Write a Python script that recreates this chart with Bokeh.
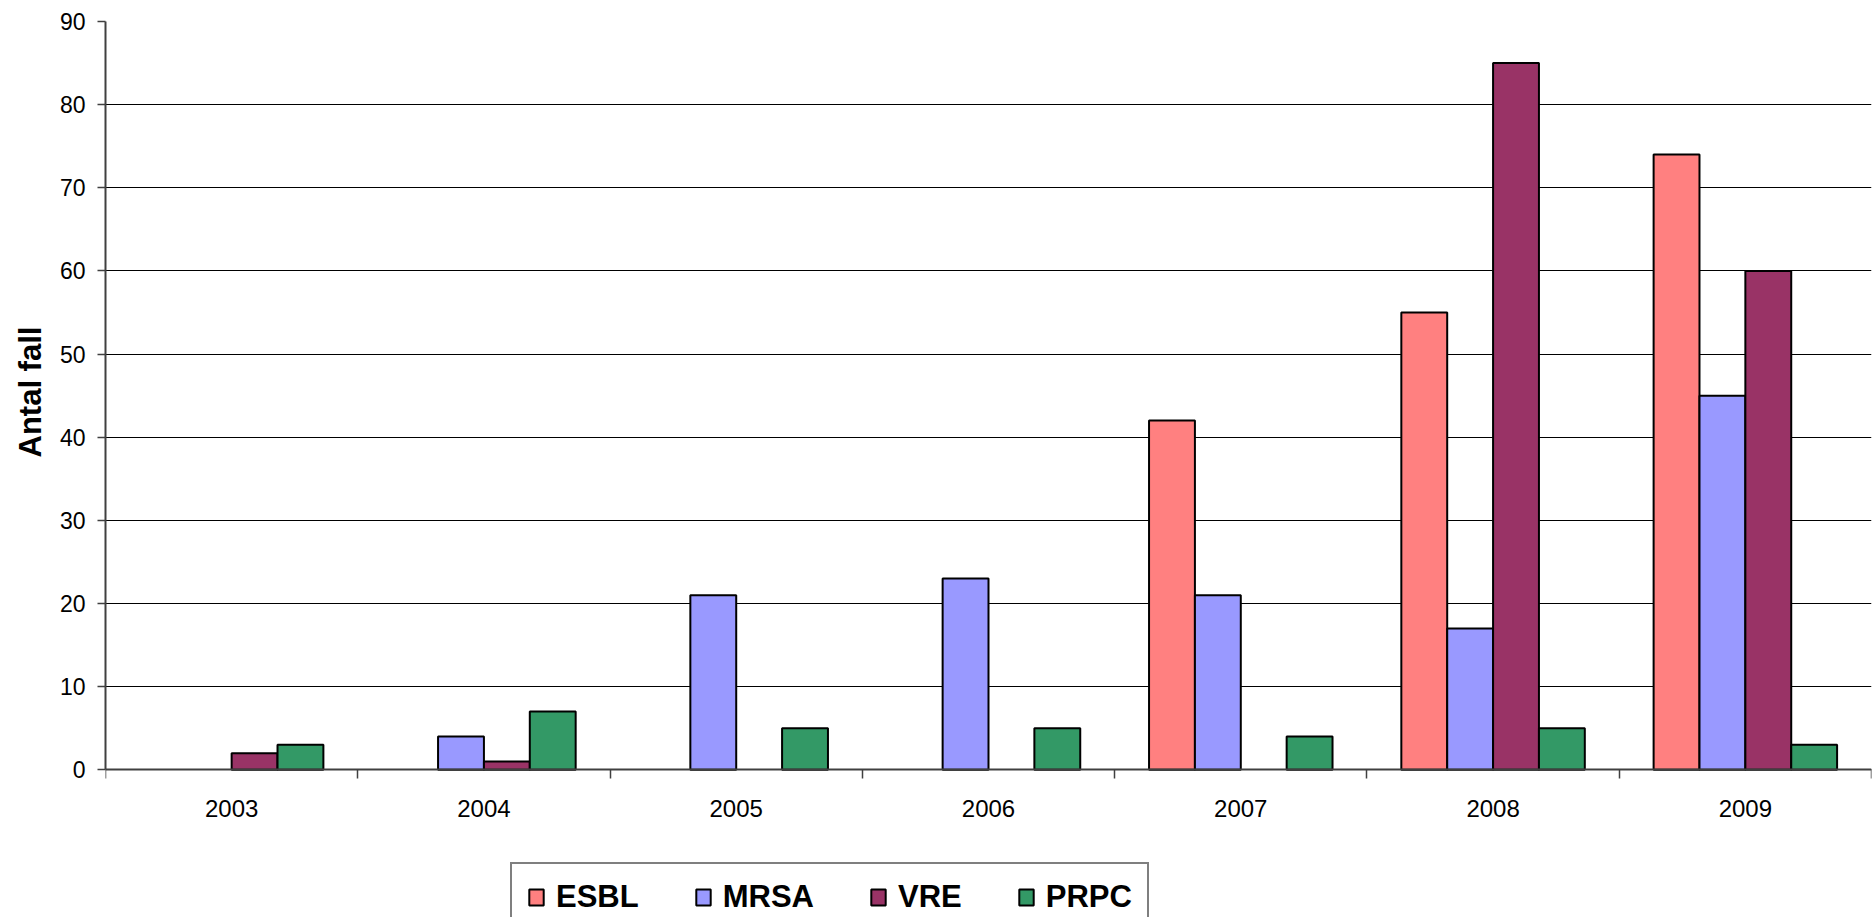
import numpy as np
from bokeh.plotting import figure
from bokeh.models import (Range1d, FixedTicker, Legend, LegendItem, ColumnDataSource,
                          CDSView, BooleanFilter, Grid, Title)
from bokeh.embed import file_html
from bokeh.resources import INLINE

# ---- data ----
years = ["2003", "2004", "2005", "2006", "2007", "2008", "2009"]
series_names = ["ESBL", "MRSA", "VRE", "PRPC"]
esbl = [0, 0, 0, 0, 42, 55, 74]
mrsa = [0, 4, 21, 23, 21, 17, 45]
vre = [2, 1, 0, 0, 0, 85, 60]
prpc = [3, 7, 5, 5, 4, 5, 3]
colors = ["#FF8080", "#9999FF", "#993366", "#339966"]
y_ticks = [0, 10, 20, 30, 40, 50, 60, 70, 80, 90]
y_label = "Antal fall"

series_values = [esbl, mrsa, vre, prpc]

# plot region: y=90 at 21px, y=0 at 769px, frame extends to the page bottom (legend area)
Y_MAX = 90
Y_MIN = -Y_MAX * (917 - 769.3) / (769.3 - 21)

p = figure(width=1872, height=917, output_backend="svg", toolbar_location=None,
           x_range=Range1d(0, len(years)), y_range=Range1d(Y_MIN, Y_MAX),
           min_border_left=105, min_border_right=1, min_border_top=21, min_border_bottom=0)
p.background_fill_color = "white"
p.border_fill_color = "white"
p.outline_line_color = None

bar_w = 1.0 / 5.5
centers = np.arange(len(years)) + 0.5
items = []
for j, (name, vals, col) in enumerate(zip(series_names, series_values, colors)):
    src = ColumnDataSource(dict(x=centers + (j - 1.5) * bar_w, top=vals))
    view = CDSView(filter=BooleanFilter([v > 0 for v in vals]))
    r = p.vbar(x="x", top="top", width=bar_w, bottom=0, source=src, view=view,
               fill_color=col, line_color="black", line_width=2)
    items.append(LegendItem(label=name, renderers=[r]))

# grid lines (black), top border (grey) and right border (grey)
p.xgrid.grid_line_color = None
p.ygrid.ticker = FixedTicker(ticks=y_ticks[:-1])
p.ygrid.grid_line_color = "black"
p.ygrid.grid_line_width = 1
p.add_layout(Grid(dimension=1, ticker=FixedTicker(ticks=[Y_MAX]),
                  grid_line_color="#808080", grid_line_width=2))
p.add_layout(Grid(dimension=0, ticker=FixedTicker(ticks=[len(years)]), bounds=(0, Y_MAX),
                  grid_line_color="#808080", grid_line_width=2))

# y axis
p.yaxis.bounds = (0, Y_MAX)
p.yaxis.ticker = FixedTicker(ticks=y_ticks)
p.yaxis.axis_line_color = "#404040"
p.yaxis.axis_line_width = 2
p.yaxis.major_tick_line_color = "#404040"
p.yaxis.major_tick_line_width = 1.5
p.yaxis.major_tick_out = 8
p.yaxis.major_tick_in = 0
p.yaxis.minor_tick_line_color = None
p.yaxis.major_label_standoff = 12
p.yaxis.major_label_text_font = "Liberation Sans"
p.yaxis.major_label_text_font_size = "23px"
p.yaxis.major_label_text_color = "black"

# y axis title (rotated), starting just below the 40 tick as in the reference
p.add_layout(Title(text=y_label, align="left", offset=917 - 457,
                   text_font="Liberation Sans", text_font_style="bold",
                   text_font_size="31px", text_color="black", standoff=18), "left")

# x axis at y=0: labels at centers, separators as minor ticks at boundaries
p.xaxis.fixed_location = 0
p.xaxis.bounds = (0, len(years))
p.xaxis.ticker = FixedTicker(ticks=list(centers), minor_ticks=list(range(len(years) + 1)))
p.xaxis.major_label_overrides = {float(c): y for c, y in zip(centers, years)}
p.xaxis.axis_line_color = "#404040"
p.xaxis.axis_line_width = 2
p.xaxis.major_tick_line_color = None
p.xaxis.major_tick_out = 0
p.xaxis.major_tick_in = 0
p.xaxis.minor_tick_line_color = "#404040"
p.xaxis.minor_tick_line_width = 1.5
p.xaxis.minor_tick_out = 9
p.xaxis.minor_tick_in = 0
p.xaxis.major_label_standoff = 21
p.xaxis.major_label_text_font = "Liberation Sans"
p.xaxis.major_label_text_font_size = "24px"
p.xaxis.major_label_text_color = "black"

legend = Legend(items=items, orientation="horizontal", location=(405, -15),
                border_line_color="black", border_line_width=2,
                background_fill_color="white", background_fill_alpha=1,
                padding=15, margin=0, spacing=55, label_standoff=11,
                glyph_width=18, glyph_height=20,
                label_text_font="Liberation Sans", label_text_font_style="bold",
                label_text_font_size="31px", label_text_color="black")
p.add_layout(legend, "center")

open("out.html", "w").write(file_html(p, INLINE))
